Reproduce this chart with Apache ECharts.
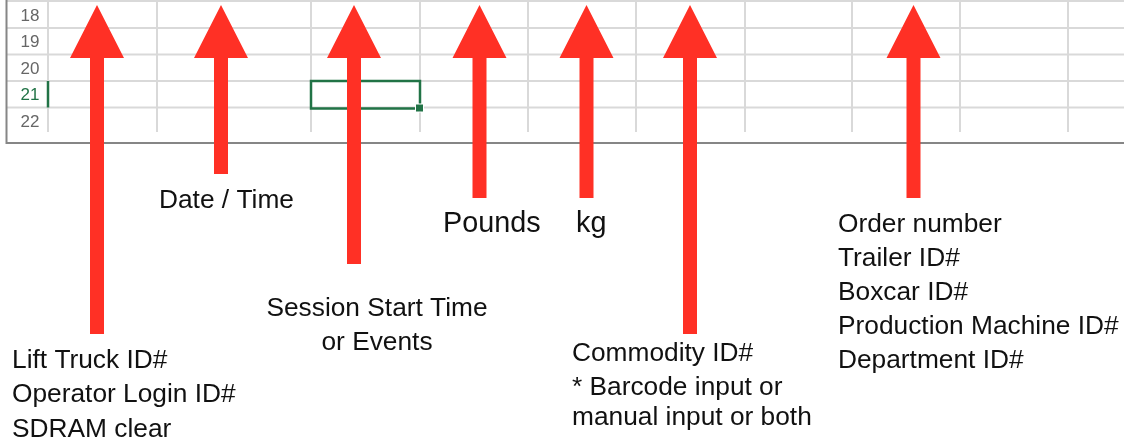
<!DOCTYPE html>
<html><head><meta charset="utf-8">
<script src="https://cdn.jsdelivr.net/npm/echarts@6/dist/echarts.min.js"></script>
<style>html,body{margin:0;padding:0;background:#fff;overflow:hidden}#c{width:1124px;height:439px}</style>
</head><body><div id="c"></div>
<script>
// ---- spreadsheet content ----
const rowNumbers = ['18', '19', '20', '21', '22'];
const activeRow = '21';
const rowLines = [1, 28, 54.5, 81, 107.5, 134];          // row boundaries
const colLines = [48, 157, 311, 420, 528, 636, 745, 852, 960, 1068]; // column boundaries
const selectedCell = [311, 81, 420, 108.5];             // x0, y0, x1, y1

// ---- arrows (one per annotated column) ----
const arrowX = [97, 221, 354, 479.5, 586.5, 690, 913.5];
const arrowTail = [334, 174, 264, 198, 198, 334, 198];

// ---- annotation texts ----
const labelGroups = [
  ['Lift Truck ID#', 'Operator Login ID#', 'SDRAM clear'],
  ['Date / Time'],
  ['Session Start Time', 'or Events'],
  ['Pounds'],
  ['kg'],
  ['Commodity ID#', '* Barcode input or', 'manual input or both'],
  ['Order number', 'Trailer ID#', 'Boxcar ID#', 'Production Machine ID#', 'Department ID#']
];
</script>
<script>
// ---- layout (kept apart from the data) ----
const ARROW_TIP = 5, HEAD_LEN = 53, HEAD_HALF = 27, SHAFT_HALF = 7;
const RED = '#ff3025';
const GREEN = '#217346';
const labelX = [12, 159, 377, 443, 576, 572, 838];
const labelY = [360.5, 200.5, 308.5, 224.5, 224.5, 353.5, 224.5];
const labelOffsets = [[0, 34.5, 69], [0], [0, 34], [0], [0], [0, 34, 64], [0, 34, 68, 102, 136]];
const labelAlign = ['left', 'left', 'center', 'left', 'left', 'left', 'left'];
const labelSize = [26.3, 26.3, 26.3, 28.8, 28.8, 26.3, 26.3];
const FONT = '"Liberation Sans", Arial, sans-serif';

const textData = [], textMeta = [];
labelGroups.forEach((lines, g) => {
  lines.forEach((t, i) => {
    textData.push([labelX[g], labelY[g] + labelOffsets[g][i]]);
    textMeta.push({ text: t, align: labelAlign[g], size: labelSize[g] });
  });
});

const GRID_BOTTOM = 132, LEFT_BORDER = 6.5, BOTTOM_BORDER = 143;

const chart = echarts.init(document.getElementById('c'), null, { renderer: 'canvas' });

const option = {
  animation: false,
  backgroundColor: '#ffffff',
  grid: { left: 0, right: 0, top: 0, bottom: 0 },
  xAxis: { type: 'value', min: 0, max: 1124, show: false },
  yAxis: { type: 'value', min: 0, max: 439, inverse: true, show: false },
  series: [
    // horizontal row lines
    {
      type: 'custom', clip: false, silent: true, z: 1,
      data: rowLines.slice(0, 5).map(y => [y]),
      renderItem: (params, api) => {
        const a = api.coord([LEFT_BORDER, api.value(0)]);
        const b = api.coord([1124, api.value(0)]);
        return { type: 'line', shape: { x1: a[0], y1: a[1], x2: b[0], y2: b[1] },
          style: { stroke: '#d9d9d9', lineWidth: 2 } };
      }
    },
    // vertical column lines
    {
      type: 'custom', clip: false, silent: true, z: 1,
      data: colLines.map(x => [x]),
      renderItem: (params, api) => {
        const a = api.coord([api.value(0), 0]);
        const b = api.coord([api.value(0), GRID_BOTTOM]);
        return { type: 'line', shape: { x1: a[0], y1: a[1], x2: b[0], y2: b[1] },
          style: { stroke: '#d9d9d9', lineWidth: 2 } };
      }
    },
    // outer border (left + bottom)
    {
      type: 'custom', clip: false, silent: true, z: 2,
      data: [[0]],
      renderItem: (params, api) => {
        const tl = api.coord([LEFT_BORDER, 0]);
        const bl = api.coord([LEFT_BORDER, BOTTOM_BORDER]);
        const br = api.coord([1124, BOTTOM_BORDER]);
        return { type: 'polyline', shape: { points: [tl, bl, br] },
          style: { stroke: '#868686', lineWidth: 2, fill: null } };
      }
    },
    // row numbers
    {
      type: 'custom', clip: false, silent: true, z: 3,
      data: rowNumbers.map((r, i) => [30, (rowLines[i] + rowLines[i + 1]) / 2 + 1.5]),
      renderItem: (params, api) => {
        const p = api.coord([api.value(0), api.value(1)]);
        const r = rowNumbers[params.dataIndex];
        return { type: 'text', x: p[0], y: p[1],
          style: { text: r, font: '17px ' + FONT, fill: r === activeRow ? GREEN : '#666666',
            align: 'center', verticalAlign: 'middle' } };
      }
    },
    // active-row marker and selected cell
    {
      type: 'custom', clip: false, silent: true, z: 4,
      data: [selectedCell],
      renderItem: (params, api) => {
        const p0 = api.coord([api.value(0), api.value(1)]);
        const p1 = api.coord([api.value(2), api.value(3)]);
        const ri = rowNumbers.indexOf(activeRow);
        const m0 = api.coord([colLines[0], rowLines[ri]]);
        const m1 = api.coord([colLines[0], rowLines[ri + 1]]);
        return { type: 'group', children: [
          { type: 'line', shape: { x1: m0[0], y1: m0[1], x2: m1[0], y2: m1[1] },
            style: { stroke: GREEN, lineWidth: 2.5 } },
          { type: 'rect', shape: { x: p0[0], y: p0[1], width: p1[0] - p0[0], height: p1[1] - p0[1] },
            style: { stroke: GREEN, lineWidth: 2.5, fill: null } },
          { type: 'rect', shape: { x: p1[0] - 4.5, y: p1[1] - 4.5, width: 8, height: 8 },
            style: { fill: GREEN, stroke: '#ffffff', lineWidth: 1 } }
        ] };
      }
    },
    // arrows
    {
      type: 'custom', clip: false, silent: true, z: 5,
      data: arrowX.map((x, i) => [x, arrowTail[i]]),
      renderItem: (params, api) => {
        const tip = api.coord([api.value(0), ARROW_TIP]);
        const tail = api.coord([api.value(0), api.value(1)]);
        const x = tip[0], yb = tip[1] + HEAD_LEN;
        return { type: 'polygon', shape: { points: [
          [x, tip[1]], [x + HEAD_HALF, yb], [x + SHAFT_HALF, yb], [x + SHAFT_HALF, tail[1]],
          [x - SHAFT_HALF, tail[1]], [x - SHAFT_HALF, yb], [x - HEAD_HALF, yb]
        ] }, style: { fill: RED } };
      }
    },
    // annotation texts
    {
      type: 'custom', clip: false, silent: true, z: 6,
      data: textData,
      renderItem: (params, api) => {
        const p = api.coord([api.value(0), api.value(1)]);
        const m = textMeta[params.dataIndex];
        return { type: 'text', x: p[0], y: p[1],
          style: { text: m.text, font: m.size + 'px ' + FONT, fill: '#111111',
            align: m.align, verticalAlign: 'middle' } };
      }
    }
  ]
};
chart.setOption(option);
</script>
</body></html>
